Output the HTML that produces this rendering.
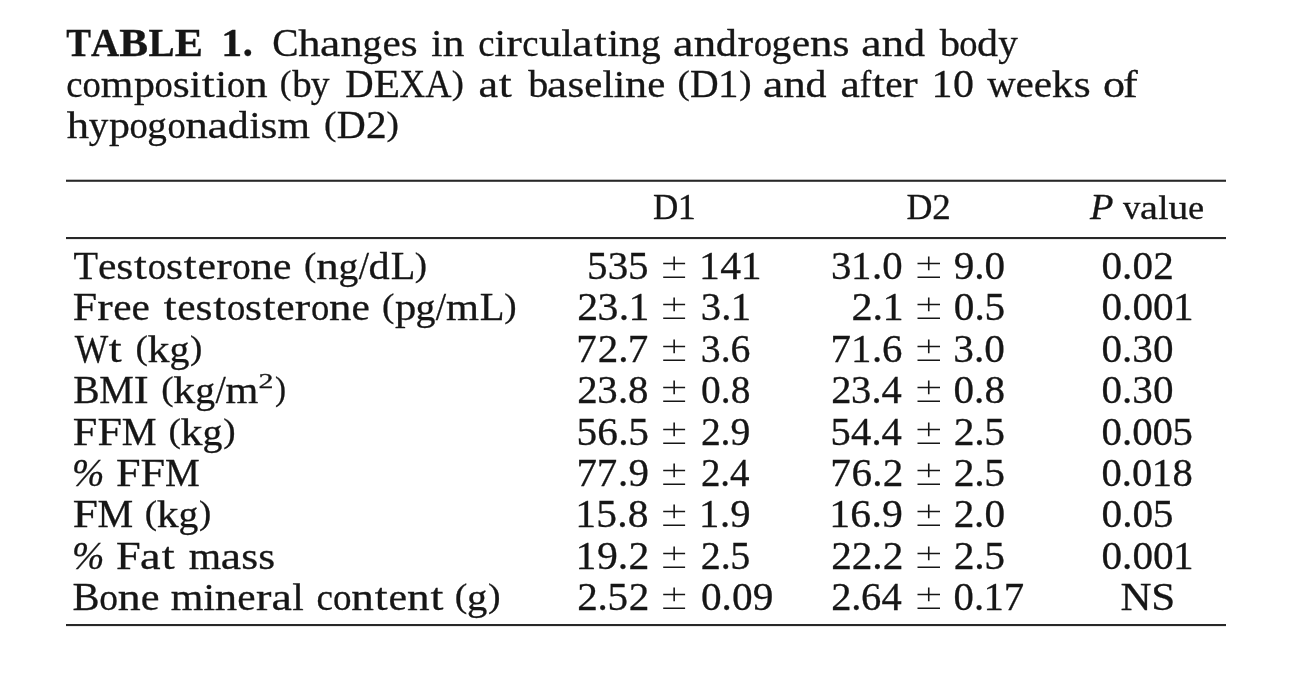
<!DOCTYPE html><html><head><meta charset="utf-8"><style>html,body{margin:0;padding:0;background:#fff;overflow:hidden}svg{display:block;will-change:transform}text{font-family:"Liberation Serif",serif;fill:#161616;stroke:#161616;stroke-width:0.30px}</style></head><body>
<svg width="1300" height="688" viewBox="0 0 1300 688">
<rect x="66.00" y="179.70" width="1160.00" height="2.10" fill="#282828"/>
<rect x="66.00" y="237.00" width="1160.00" height="2.10" fill="#282828"/>
<rect x="66.00" y="624.00" width="1160.00" height="2.10" fill="#282828"/>
<path d="M663.20 263.50H685.10M674.15 256.40V270.20M663.20 277.20H685.10" stroke="#161616" stroke-width="1.6" fill="none"/>
<path d="M917.50 263.50H940.00M928.75 256.40V270.20M917.50 277.20H940.00" stroke="#161616" stroke-width="1.6" fill="none"/>
<path d="M663.20 304.50H685.10M674.15 297.40V311.20M663.20 318.20H685.10" stroke="#161616" stroke-width="1.6" fill="none"/>
<path d="M917.50 304.50H940.00M928.75 297.40V311.20M917.50 318.20H940.00" stroke="#161616" stroke-width="1.6" fill="none"/>
<path d="M663.20 346.50H685.10M674.15 339.40V353.20M663.20 360.20H685.10" stroke="#161616" stroke-width="1.6" fill="none"/>
<path d="M917.50 346.50H940.00M928.75 339.40V353.20M917.50 360.20H940.00" stroke="#161616" stroke-width="1.6" fill="none"/>
<path d="M663.20 387.50H685.10M674.15 380.40V394.20M663.20 401.20H685.10" stroke="#161616" stroke-width="1.6" fill="none"/>
<path d="M917.50 387.50H940.00M928.75 380.40V394.20M917.50 401.20H940.00" stroke="#161616" stroke-width="1.6" fill="none"/>
<path d="M663.20 429.50H685.10M674.15 422.40V436.20M663.20 443.20H685.10" stroke="#161616" stroke-width="1.6" fill="none"/>
<path d="M917.50 429.50H940.00M928.75 422.40V436.20M917.50 443.20H940.00" stroke="#161616" stroke-width="1.6" fill="none"/>
<path d="M663.20 470.50H685.10M674.15 463.40V477.20M663.20 484.20H685.10" stroke="#161616" stroke-width="1.6" fill="none"/>
<path d="M917.50 470.50H940.00M928.75 463.40V477.20M917.50 484.20H940.00" stroke="#161616" stroke-width="1.6" fill="none"/>
<path d="M663.20 511.50H685.10M674.15 504.40V518.20M663.20 525.20H685.10" stroke="#161616" stroke-width="1.6" fill="none"/>
<path d="M917.50 511.50H940.00M928.75 504.40V518.20M917.50 525.20H940.00" stroke="#161616" stroke-width="1.6" fill="none"/>
<path d="M663.20 553.50H685.10M674.15 546.40V560.20M663.20 567.20H685.10" stroke="#161616" stroke-width="1.6" fill="none"/>
<path d="M917.50 553.50H940.00M928.75 546.40V560.20M917.50 567.20H940.00" stroke="#161616" stroke-width="1.6" fill="none"/>
<path d="M663.20 594.50H685.10M674.15 587.40V601.20M663.20 608.20H685.10" stroke="#161616" stroke-width="1.6" fill="none"/>
<path d="M917.50 594.50H940.00M928.75 587.40V601.20M917.50 608.20H940.00" stroke="#161616" stroke-width="1.6" fill="none"/>
<g id="cap1_0"><text y="56.00" font-size="40.30" transform="matrix(0.9210 0 0 1 66.19 0)" font-weight="bold">T</text><text y="56.00" font-size="40.30" transform="matrix(0.9680 0 0 1 90.91 0)" font-weight="bold">A</text><text y="56.00" font-size="40.30" transform="matrix(1.0743 0 0 1 119.37 0)" font-weight="bold">B</text><text y="56.00" font-size="40.30" transform="matrix(0.9721 0 0 1 148.49 0)" font-weight="bold">L</text><text y="56.00" font-size="40.30" transform="matrix(1.0481 0 0 1 174.86 0)" font-weight="bold">E</text></g>
<g id="cap1_1"><text y="56.00" font-size="40.30" transform="matrix(1.0360 0 0 1 221.23 0)" font-weight="bold">1</text><text y="56.00" font-size="40.30" transform="matrix(1.0035 0 0 1 242.74 0)" font-weight="bold">.</text></g>
<g id="cap1_2"><text y="56.00" font-size="40.30" transform="matrix(0.9792 0 0 1 272.18 0)">C</text><text y="56.00" font-size="38.30" transform="matrix(1.1631 0 0 1 298.30 0)">h</text><text y="56.00" font-size="38.30" transform="matrix(1.1923 0 0 1 320.00 0)">a</text><text y="56.00" font-size="38.30" transform="matrix(1.1631 0 0 1 340.59 0)">n</text><text y="56.00" font-size="38.30" transform="matrix(1.0222 0 0 1 362.57 0)">g</text><text y="56.00" font-size="38.30" transform="matrix(1.0722 0 0 1 382.52 0)">e</text><text y="56.00" font-size="38.30" transform="matrix(1.1324 0 0 1 400.73 0)">s</text></g>
<g id="cap1_3"><text y="56.00" font-size="38.30" transform="matrix(1.0486 0 0 1 431.22 0)">i</text><text y="56.00" font-size="38.30" transform="matrix(1.1302 0 0 1 442.72 0)">n</text></g>
<g id="cap1_4"><text y="56.00" font-size="38.30" transform="matrix(0.9586 0 0 1 478.22 0)">c</text><text y="56.00" font-size="38.30" transform="matrix(1.0865 0 0 1 494.61 0)">i</text><text y="56.00" font-size="38.30" transform="matrix(1.2200 0 0 1 506.31 0)">r</text><text y="56.00" font-size="38.30" transform="matrix(0.9586 0 0 1 522.37 0)">c</text><text y="56.00" font-size="38.30" transform="matrix(1.1710 0 0 1 538.89 0)">u</text><text y="56.00" font-size="38.30" transform="matrix(1.0865 0 0 1 561.23 0)">l</text><text y="56.00" font-size="38.30" transform="matrix(1.2004 0 0 1 572.29 0)">a</text><text y="56.00" font-size="38.30" transform="matrix(1.2200 0 0 1 593.75 0)">t</text><text y="56.00" font-size="38.30" transform="matrix(1.0865 0 0 1 607.43 0)">i</text><text y="56.00" font-size="38.30" transform="matrix(1.1710 0 0 1 618.86 0)">n</text><text y="56.00" font-size="38.30" transform="matrix(1.0292 0 0 1 640.99 0)">g</text></g>
<g id="cap1_5"><text y="56.00" font-size="38.30" transform="matrix(1.2020 0 0 1 672.90 0)">a</text><text y="56.00" font-size="38.30" transform="matrix(1.1725 0 0 1 693.65 0)">n</text><text y="56.00" font-size="38.30" transform="matrix(1.1015 0 0 1 715.77 0)">d</text><text y="56.00" font-size="38.30" transform="matrix(1.2200 0 0 1 737.49 0)">r</text><text y="56.00" font-size="38.30" transform="matrix(0.9595 0 0 1 753.69 0)">o</text><text y="56.00" font-size="38.30" transform="matrix(1.0305 0 0 1 771.59 0)">g</text><text y="56.00" font-size="38.30" transform="matrix(1.0809 0 0 1 791.71 0)">e</text><text y="56.00" font-size="38.30" transform="matrix(1.1725 0 0 1 810.00 0)">n</text><text y="56.00" font-size="38.30" transform="matrix(1.1416 0 0 1 832.52 0)">s</text></g>
<g id="cap1_6"><text y="56.00" font-size="38.30" transform="matrix(1.1969 0 0 1 861.19 0)">a</text><text y="56.00" font-size="38.30" transform="matrix(1.1676 0 0 1 881.85 0)">n</text><text y="56.00" font-size="38.30" transform="matrix(1.0969 0 0 1 903.89 0)">d</text></g>
<g id="cap1_7"><text y="56.00" font-size="38.30" transform="matrix(1.0597 0 0 1 939.64 0)">b</text><text y="56.00" font-size="38.30" transform="matrix(0.9530 0 0 1 959.16 0)">o</text><text y="56.00" font-size="38.30" transform="matrix(1.0941 0 0 1 976.91 0)">d</text><text y="56.00" font-size="38.30" transform="matrix(1.0235 0 0 1 998.20 0)">y</text></g>
<g id="cap2_0"><text y="97.00" font-size="38.30" transform="matrix(0.9563 0 0 1 66.22 0)">c</text><text y="97.00" font-size="38.30" transform="matrix(0.9559 0 0 1 82.61 0)">o</text><text y="97.00" font-size="38.30" transform="matrix(1.0926 0 0 1 100.80 0)">m</text><text y="97.00" font-size="38.30" transform="matrix(1.0974 0 0 1 133.95 0)">p</text><text y="97.00" font-size="38.30" transform="matrix(0.9559 0 0 1 154.48 0)">o</text><text y="97.00" font-size="38.30" transform="matrix(1.1373 0 0 1 172.68 0)">s</text><text y="97.00" font-size="38.30" transform="matrix(1.0838 0 0 1 189.70 0)">i</text><text y="97.00" font-size="38.30" transform="matrix(1.2200 0 0 1 201.81 0)">t</text><text y="97.00" font-size="38.30" transform="matrix(1.0838 0 0 1 215.47 0)">i</text><text y="97.00" font-size="38.30" transform="matrix(0.9559 0 0 1 227.05 0)">o</text><text y="97.00" font-size="38.30" transform="matrix(1.1682 0 0 1 245.18 0)">n</text></g>
<g id="cap2_1"><text y="94.00" font-size="34.00" transform="matrix(1.0291 0 0 1 279.67 0)" stroke-width="0">(</text><text y="97.00" font-size="38.30" transform="matrix(1.0159 0 0 1 292.27 0)">b</text><text y="97.00" font-size="38.30" transform="matrix(0.9812 0 0 1 310.83 0)">y</text></g>
<g id="cap2_2"><text y="97.00" font-size="40.30" transform="matrix(0.9743 0 0 1 345.21 0)">D</text><text y="97.00" font-size="40.30" transform="matrix(1.0690 0 0 1 373.80 0)">E</text><text y="97.00" font-size="40.30" transform="matrix(0.8816 0 0 1 399.59 0)">X</text><text y="97.00" font-size="40.30" transform="matrix(0.9042 0 0 1 425.28 0)">A</text><text y="94.00" font-size="34.00" transform="matrix(1.0719 0 0 1 451.85 0)" stroke-width="0">)</text></g>
<g id="cap2_3"><text y="97.00" font-size="38.30" transform="matrix(1.1508 0 0 1 478.40 0)">a</text><text y="97.00" font-size="38.30" transform="matrix(1.2200 0 0 1 498.72 0)">t</text></g>
<g id="cap2_4"><text y="97.00" font-size="38.30" transform="matrix(1.0494 0 0 1 528.15 0)">b</text><text y="97.00" font-size="38.30" transform="matrix(1.1822 0 0 1 546.99 0)">a</text><text y="97.00" font-size="38.30" transform="matrix(1.1228 0 0 1 567.47 0)">s</text><text y="97.00" font-size="38.30" transform="matrix(1.0631 0 0 1 584.22 0)">e</text><text y="97.00" font-size="38.30" transform="matrix(1.0700 0 0 1 602.38 0)">l</text><text y="97.00" font-size="38.30" transform="matrix(1.0700 0 0 1 613.72 0)">i</text><text y="97.00" font-size="38.30" transform="matrix(1.1532 0 0 1 624.98 0)">n</text><text y="97.00" font-size="38.30" transform="matrix(1.0631 0 0 1 647.15 0)">e</text></g>
<g id="cap2_5"><text y="94.00" font-size="34.00" transform="matrix(1.0841 0 0 1 677.39 0)" stroke-width="0">(</text><text y="97.00" font-size="40.30" transform="matrix(0.9853 0 0 1 690.10 0)">D</text><text y="97.00" font-size="40.30" transform="matrix(1.0171 0 0 1 717.98 0)">1</text><text y="94.00" font-size="34.00" transform="matrix(1.0841 0 0 1 739.26 0)" stroke-width="0">)</text></g>
<g id="cap2_6"><text y="97.00" font-size="38.30" transform="matrix(1.1949 0 0 1 762.91 0)">a</text><text y="97.00" font-size="38.30" transform="matrix(1.1656 0 0 1 783.54 0)">n</text><text y="97.00" font-size="38.30" transform="matrix(1.0951 0 0 1 805.54 0)">d</text></g>
<g id="cap2_7"><text y="97.00" font-size="38.30" transform="matrix(1.1331 0 0 1 840.56 0)">a</text><text y="97.00" font-size="38.30" transform="matrix(0.9045 0 0 1 859.75 0)">f</text><text y="97.00" font-size="38.30" transform="matrix(1.2200 0 0 1 871.98 0)">t</text><text y="97.00" font-size="38.30" transform="matrix(1.0190 0 0 1 885.21 0)">e</text><text y="97.00" font-size="38.30" transform="matrix(1.2060 0 0 1 902.36 0)">r</text></g>
<g id="cap2_8"><text y="97.00" font-size="40.30" transform="matrix(1.0420 0 0 1 931.49 0)">1</text><text y="97.00" font-size="40.30" transform="matrix(1.0420 0 0 1 952.97 0)">0</text></g>
<g id="cap2_9"><text y="97.00" font-size="38.30" transform="matrix(1.0283 0 0 1 987.18 0)">w</text><text y="97.00" font-size="38.30" transform="matrix(1.0753 0 0 1 1015.46 0)">e</text><text y="97.00" font-size="38.30" transform="matrix(1.0753 0 0 1 1033.74 0)">e</text><text y="97.00" font-size="38.30" transform="matrix(1.1320 0 0 1 1051.70 0)">k</text><text y="97.00" font-size="38.30" transform="matrix(1.1356 0 0 1 1073.68 0)">s</text></g>
<g id="cap2_10"><text y="97.00" font-size="38.30" transform="matrix(1.1542 0 0 1 1103.00 0)">o</text><text y="97.00" font-size="38.30" transform="matrix(1.1542 0 0 1 1122.89 0)">f</text></g>
<g id="cap3_0"><text y="138.00" font-size="38.30" transform="matrix(1.1648 0 0 1 66.75 0)">h</text><text y="138.00" font-size="38.30" transform="matrix(1.0238 0 0 1 88.82 0)">y</text><text y="138.00" font-size="38.30" transform="matrix(1.0943 0 0 1 109.07 0)">p</text><text y="138.00" font-size="38.30" transform="matrix(0.9532 0 0 1 129.54 0)">o</text><text y="138.00" font-size="38.30" transform="matrix(1.0238 0 0 1 147.33 0)">g</text><text y="138.00" font-size="38.30" transform="matrix(0.9532 0 0 1 167.40 0)">o</text><text y="138.00" font-size="38.30" transform="matrix(1.1648 0 0 1 185.48 0)">n</text><text y="138.00" font-size="38.30" transform="matrix(1.1941 0 0 1 207.47 0)">a</text><text y="138.00" font-size="38.30" transform="matrix(1.0943 0 0 1 227.76 0)">d</text><text y="138.00" font-size="38.30" transform="matrix(1.0807 0 0 1 249.18 0)">i</text><text y="138.00" font-size="38.30" transform="matrix(1.1341 0 0 1 260.61 0)">s</text><text y="138.00" font-size="38.30" transform="matrix(1.0895 0 0 1 277.51 0)">m</text></g>
<g id="cap3_1"><text y="135.00" font-size="34.00" transform="matrix(1.0966 0 0 1 324.01 0)" stroke-width="0">(</text><text y="138.00" font-size="40.30" transform="matrix(0.9967 0 0 1 336.87 0)">D</text><text y="138.00" font-size="40.30" transform="matrix(1.0288 0 0 1 365.88 0)">2</text><text y="135.00" font-size="34.00" transform="matrix(1.0966 0 0 1 386.60 0)" stroke-width="0">)</text></g>
<g id="h1"><text y="219.00" font-size="35.40" transform="matrix(0.9895 0 0 1 653.04 0)">D</text><text y="219.00" font-size="35.40" transform="matrix(1.0213 0 0 1 677.65 0)">1</text></g>
<g id="h2"><text y="219.00" font-size="35.40" transform="matrix(1.0141 0 0 1 906.60 0)">D</text><text y="219.00" font-size="35.40" transform="matrix(1.0468 0 0 1 932.29 0)">2</text></g>
<g id="h3a"><text y="219.00" font-size="35.40" transform="matrix(1.0837 0 0 1 1090.12 0)" font-style="italic">P</text></g>
<g id="h3b"><text y="219.00" font-size="33.50" transform="matrix(1.0333 0 0 1 1123.11 0)">v</text><text y="219.00" font-size="33.50" transform="matrix(1.2052 0 0 1 1139.98 0)">a</text><text y="219.00" font-size="33.50" transform="matrix(1.0908 0 0 1 1158.34 0)">l</text><text y="219.00" font-size="33.50" transform="matrix(1.1757 0 0 1 1168.57 0)">u</text><text y="219.00" font-size="33.50" transform="matrix(1.0838 0 0 1 1188.10 0)">e</text></g>
<g id="l0_0"><text y="279.00" font-size="40.50" transform="matrix(0.9923 0 0 1 73.45 0)">T</text><text y="279.00" font-size="38.00" transform="matrix(1.0911 0 0 1 97.94 0)">e</text><text y="279.00" font-size="38.00" transform="matrix(1.1523 0 0 1 116.32 0)">s</text><text y="279.00" font-size="38.00" transform="matrix(1.2200 0 0 1 134.10 0)">t</text><text y="279.00" font-size="38.00" transform="matrix(0.9686 0 0 1 147.79 0)">o</text><text y="279.00" font-size="38.00" transform="matrix(1.1523 0 0 1 166.09 0)">s</text><text y="279.00" font-size="38.00" transform="matrix(1.2200 0 0 1 183.86 0)">t</text><text y="279.00" font-size="38.00" transform="matrix(1.0911 0 0 1 197.46 0)">e</text><text y="279.00" font-size="38.00" transform="matrix(1.2200 0 0 1 216.15 0)">r</text><text y="279.00" font-size="38.00" transform="matrix(0.9686 0 0 1 232.30 0)">o</text><text y="279.00" font-size="38.00" transform="matrix(1.1836 0 0 1 250.52 0)">n</text><text y="279.00" font-size="38.00" transform="matrix(1.0911 0 0 1 273.10 0)">e</text></g>
<g id="l0_1"><text y="276.00" font-size="34.00" transform="matrix(1.0838 0 0 1 303.89 0)" stroke-width="0">(</text><text y="279.00" font-size="38.00" transform="matrix(1.1850 0 0 1 316.21 0)">n</text><text y="279.00" font-size="38.00" transform="matrix(1.0415 0 0 1 338.42 0)">g</text><text y="279.00" font-size="40.50" transform="matrix(0.9104 0 0 1 358.68 0)" stroke-width="0">/</text><text y="279.00" font-size="38.00" transform="matrix(1.1132 0 0 1 368.42 0)">d</text><text y="279.00" font-size="40.50" transform="matrix(0.9935 0 0 1 390.71 0)">L</text><text y="276.00" font-size="34.00" transform="matrix(1.0838 0 0 1 414.87 0)" stroke-width="0">)</text></g>
<g id="l1_0"><text y="320.00" font-size="40.50" transform="matrix(1.0839 0 0 1 72.86 0)">F</text><text y="320.00" font-size="38.00" transform="matrix(1.2200 0 0 1 97.26 0)">r</text><text y="320.00" font-size="38.00" transform="matrix(1.0851 0 0 1 113.28 0)">e</text><text y="320.00" font-size="38.00" transform="matrix(1.0851 0 0 1 131.58 0)">e</text></g>
<g id="l1_1"><text y="320.00" font-size="38.00" transform="matrix(1.2200 0 0 1 163.72 0)">t</text><text y="320.00" font-size="38.00" transform="matrix(1.0858 0 0 1 177.28 0)">e</text><text y="320.00" font-size="38.00" transform="matrix(1.1467 0 0 1 195.58 0)">s</text><text y="320.00" font-size="38.00" transform="matrix(1.2200 0 0 1 213.24 0)">t</text><text y="320.00" font-size="38.00" transform="matrix(0.9638 0 0 1 226.89 0)">o</text><text y="320.00" font-size="38.00" transform="matrix(1.1467 0 0 1 245.10 0)">s</text><text y="320.00" font-size="38.00" transform="matrix(1.2200 0 0 1 262.76 0)">t</text><text y="320.00" font-size="38.00" transform="matrix(1.0858 0 0 1 276.32 0)">e</text><text y="320.00" font-size="38.00" transform="matrix(1.2200 0 0 1 294.87 0)">r</text><text y="320.00" font-size="38.00" transform="matrix(0.9638 0 0 1 310.98 0)">o</text><text y="320.00" font-size="38.00" transform="matrix(1.1778 0 0 1 329.12 0)">n</text><text y="320.00" font-size="38.00" transform="matrix(1.0858 0 0 1 351.58 0)">e</text></g>
<g id="l1_2"><text y="317.00" font-size="34.00" transform="matrix(1.0925 0 0 1 382.02 0)" stroke-width="0">(</text><text y="320.00" font-size="38.00" transform="matrix(1.1222 0 0 1 395.09 0)">p</text><text y="320.00" font-size="38.00" transform="matrix(1.0498 0 0 1 415.45 0)">g</text><text y="320.00" font-size="40.50" transform="matrix(0.9177 0 0 1 435.87 0)" stroke-width="0">/</text><text y="320.00" font-size="38.00" transform="matrix(1.1172 0 0 1 446.09 0)">m</text><text y="320.00" font-size="40.50" transform="matrix(1.0015 0 0 1 479.86 0)">L</text><text y="317.00" font-size="34.00" transform="matrix(1.0925 0 0 1 504.22 0)" stroke-width="0">)</text></g>
<g id="l2_0"><text y="362.00" font-size="40.50" transform="matrix(0.8759 0 0 1 74.87 0)">W</text><text y="362.00" font-size="38.00" transform="matrix(1.2200 0 0 1 108.68 0)">t</text></g>
<g id="l2_1"><text y="359.00" font-size="34.00" transform="matrix(1.0913 0 0 1 135.38 0)" stroke-width="0">(</text><text y="362.00" font-size="38.00" transform="matrix(1.1581 0 0 1 147.53 0)">k</text><text y="362.00" font-size="38.00" transform="matrix(1.0487 0 0 1 169.47 0)">g</text><text y="359.00" font-size="34.00" transform="matrix(1.0913 0 0 1 190.09 0)" stroke-width="0">)</text></g>
<g id="l3_0"><text y="403.00" font-size="40.50" transform="matrix(0.9792 0 0 1 73.14 0)">B</text><text y="403.00" font-size="40.50" transform="matrix(0.9604 0 0 1 99.21 0)">M</text><text y="403.00" font-size="40.50" transform="matrix(1.1056 0 0 1 133.76 0)">I</text></g>
<g id="l3_1"><text y="400.00" font-size="34.00" transform="matrix(1.0866 0 0 1 161.19 0)" stroke-width="0">(</text><text y="403.00" font-size="38.00" transform="matrix(1.1531 0 0 1 173.29 0)">k</text><text y="403.00" font-size="38.00" transform="matrix(1.0442 0 0 1 195.14 0)">g</text><text y="403.00" font-size="40.50" transform="matrix(0.9128 0 0 1 215.46 0)" stroke-width="0">/</text><text y="403.00" font-size="38.00" transform="matrix(1.1112 0 0 1 225.61 0)">m</text></g>
<g id="l3_2"><text y="400.00" font-size="34.00" transform="matrix(0.9763 0 0 1 274.89 0)" stroke-width="0">)</text></g>
<g id="l4_0"><text y="445.00" font-size="40.50" transform="matrix(1.0901 0 0 1 72.85 0)">F</text><text y="445.00" font-size="40.50" transform="matrix(1.0901 0 0 1 97.41 0)">F</text><text y="445.00" font-size="40.50" transform="matrix(0.9650 0 0 1 121.81 0)">M</text></g>
<g id="l4_1"><text y="442.00" font-size="34.00" transform="matrix(1.0921 0 0 1 168.38 0)" stroke-width="0">(</text><text y="445.00" font-size="38.00" transform="matrix(1.1589 0 0 1 180.54 0)">k</text><text y="445.00" font-size="38.00" transform="matrix(1.0495 0 0 1 202.50 0)">g</text><text y="442.00" font-size="34.00" transform="matrix(1.0921 0 0 1 223.14 0)" stroke-width="0">)</text></g>
<g id="l5_0"><text y="486.00" font-size="40.50" transform="matrix(0.9585 0 0 1 72.02 0)" font-style="italic">%</text></g>
<g id="l5_1"><text y="486.00" font-size="40.50" transform="matrix(1.0915 0 0 1 116.00 0)">F</text><text y="486.00" font-size="40.50" transform="matrix(1.0915 0 0 1 140.58 0)">F</text><text y="486.00" font-size="40.50" transform="matrix(0.9662 0 0 1 165.02 0)">M</text></g>
<g id="l6_0"><text y="527.00" font-size="40.50" transform="matrix(1.1193 0 0 1 72.78 0)">F</text><text y="527.00" font-size="40.50" transform="matrix(0.9908 0 0 1 97.55 0)">M</text></g>
<g id="l6_1"><text y="524.00" font-size="34.00" transform="matrix(1.0841 0 0 1 144.68 0)" stroke-width="0">(</text><text y="527.00" font-size="38.00" transform="matrix(1.1505 0 0 1 156.76 0)">k</text><text y="527.00" font-size="38.00" transform="matrix(1.0418 0 0 1 178.56 0)">g</text><text y="524.00" font-size="34.00" transform="matrix(1.0841 0 0 1 199.04 0)" stroke-width="0">)</text></g>
<g id="l7_0"><text y="569.00" font-size="40.50" transform="matrix(0.9585 0 0 1 72.02 0)" font-style="italic">%</text></g>
<g id="l7_1"><text y="569.00" font-size="40.50" transform="matrix(1.0983 0 0 1 115.98 0)">F</text><text y="569.00" font-size="38.00" transform="matrix(1.2200 0 0 1 140.08 0)">a</text><text y="569.00" font-size="38.00" transform="matrix(1.2200 0 0 1 161.86 0)">t</text></g>
<g id="l7_2"><text y="569.00" font-size="38.00" transform="matrix(1.0967 0 0 1 188.66 0)">m</text><text y="569.00" font-size="38.00" transform="matrix(1.2021 0 0 1 220.70 0)">a</text><text y="569.00" font-size="38.00" transform="matrix(1.1417 0 0 1 241.36 0)">s</text><text y="569.00" font-size="38.00" transform="matrix(1.1417 0 0 1 258.24 0)">s</text></g>
<g id="l8_0"><text y="610.00" font-size="40.50" transform="matrix(1.0029 0 0 1 72.54 0)">B</text><text y="610.00" font-size="38.00" transform="matrix(0.9875 0 0 1 99.22 0)">o</text><text y="610.00" font-size="38.00" transform="matrix(1.2067 0 0 1 117.80 0)">n</text><text y="610.00" font-size="38.00" transform="matrix(1.1124 0 0 1 140.82 0)">e</text></g>
<g id="l8_1"><text y="610.00" font-size="38.00" transform="matrix(1.1017 0 0 1 170.83 0)">m</text><text y="610.00" font-size="38.00" transform="matrix(1.0929 0 0 1 203.47 0)">i</text><text y="610.00" font-size="38.00" transform="matrix(1.1779 0 0 1 214.87 0)">n</text><text y="610.00" font-size="38.00" transform="matrix(1.0859 0 0 1 237.34 0)">e</text><text y="610.00" font-size="38.00" transform="matrix(1.2200 0 0 1 255.89 0)">r</text><text y="610.00" font-size="38.00" transform="matrix(1.2075 0 0 1 271.51 0)">a</text><text y="610.00" font-size="38.00" transform="matrix(1.0929 0 0 1 292.37 0)">l</text></g>
<g id="l8_2"><text y="610.00" font-size="38.00" transform="matrix(0.9754 0 0 1 316.43 0)">c</text><text y="610.00" font-size="38.00" transform="matrix(0.9751 0 0 1 333.01 0)">o</text><text y="610.00" font-size="38.00" transform="matrix(1.1915 0 0 1 351.36 0)">n</text><text y="610.00" font-size="38.00" transform="matrix(1.2200 0 0 1 374.86 0)">t</text><text y="610.00" font-size="38.00" transform="matrix(1.0984 0 0 1 388.50 0)">e</text><text y="610.00" font-size="38.00" transform="matrix(1.1915 0 0 1 406.94 0)">n</text><text y="610.00" font-size="38.00" transform="matrix(1.2200 0 0 1 430.43 0)">t</text></g>
<g id="l8_3"><text y="607.00" font-size="34.00" transform="matrix(1.1104 0 0 1 454.77 0)" stroke-width="0">(</text><text y="610.00" font-size="38.00" transform="matrix(1.0670 0 0 1 467.08 0)">g</text><text y="607.00" font-size="34.00" transform="matrix(1.1104 0 0 1 488.06 0)" stroke-width="0">)</text></g>
<g id="sup3"><text y="388.00" font-size="21.70" transform="matrix(1.3795 0 0 1 258.50 0)" stroke-width="0.7">2</text></g>
<g id="a0"><text y="279.00" font-size="40.50" transform="matrix(1.0139 0 0 1 587.05 0)">5</text><text y="279.00" font-size="40.50" transform="matrix(1.0139 0 0 1 607.79 0)">3</text><text y="279.00" font-size="40.50" transform="matrix(1.0139 0 0 1 628.11 0)">5</text></g>
<g id="b0"><text y="279.00" font-size="40.50" transform="matrix(1.0273 0 0 1 699.06 0)">1</text><text y="279.00" font-size="40.50" transform="matrix(1.0273 0 0 1 720.36 0)">4</text><text y="279.00" font-size="40.50" transform="matrix(1.0273 0 0 1 740.66 0)">1</text></g>
<g id="e0"><text y="279.00" font-size="40.50" transform="matrix(1.0088 0 0 1 831.08 0)">3</text><text y="279.00" font-size="40.50" transform="matrix(1.0088 0 0 1 851.12 0)">1</text><text y="279.00" font-size="40.50" transform="matrix(1.0088 0 0 1 872.11 0)">.</text><text y="279.00" font-size="40.50" transform="matrix(1.0088 0 0 1 882.33 0)">0</text></g>
<g id="d0"><text y="279.00" font-size="40.50" transform="matrix(1.0169 0 0 1 953.71 0)">9</text><text y="279.00" font-size="40.50" transform="matrix(1.0169 0 0 1 974.13 0)">.</text><text y="279.00" font-size="40.50" transform="matrix(1.0169 0 0 1 984.42 0)">0</text></g>
<g id="p0"><text y="279.00" font-size="40.50" transform="matrix(1.0172 0 0 1 1101.49 0)">0</text><text y="279.00" font-size="40.50" transform="matrix(1.0172 0 0 1 1122.09 0)">.</text><text y="279.00" font-size="40.50" transform="matrix(1.0172 0 0 1 1132.39 0)">0</text><text y="279.00" font-size="40.50" transform="matrix(1.0172 0 0 1 1153.22 0)">2</text></g>
<g id="a1"><text y="320.00" font-size="40.50" transform="matrix(1.0317 0 0 1 577.14 0)">2</text><text y="320.00" font-size="40.50" transform="matrix(1.0317 0 0 1 597.62 0)">3</text><text y="320.00" font-size="40.50" transform="matrix(1.0317 0 0 1 618.69 0)">.</text><text y="320.00" font-size="40.50" transform="matrix(1.0317 0 0 1 628.56 0)">1</text></g>
<g id="b1"><text y="320.00" font-size="40.50" transform="matrix(1.0065 0 0 1 700.64 0)">3</text><text y="320.00" font-size="40.50" transform="matrix(1.0065 0 0 1 721.21 0)">.</text><text y="320.00" font-size="40.50" transform="matrix(1.0065 0 0 1 730.83 0)">1</text></g>
<g id="e1"><text y="320.00" font-size="40.50" transform="matrix(1.0458 0 0 1 851.46 0)">2</text><text y="320.00" font-size="40.50" transform="matrix(1.0458 0 0 1 872.40 0)">.</text><text y="320.00" font-size="40.50" transform="matrix(1.0458 0 0 1 882.39 0)">1</text></g>
<g id="d1"><text y="320.00" font-size="40.50" transform="matrix(1.0205 0 0 1 953.87 0)">0</text><text y="320.00" font-size="40.50" transform="matrix(1.0205 0 0 1 974.54 0)">.</text><text y="320.00" font-size="40.50" transform="matrix(1.0205 0 0 1 984.48 0)">5</text></g>
<g id="p1"><text y="320.00" font-size="40.50" transform="matrix(1.0178 0 0 1 1101.49 0)">0</text><text y="320.00" font-size="40.50" transform="matrix(1.0178 0 0 1 1122.10 0)">.</text><text y="320.00" font-size="40.50" transform="matrix(1.0178 0 0 1 1132.40 0)">0</text><text y="320.00" font-size="40.50" transform="matrix(1.0178 0 0 1 1153.01 0)">0</text><text y="320.00" font-size="40.50" transform="matrix(1.0178 0 0 1 1173.05 0)">1</text></g>
<g id="a2"><text y="362.00" font-size="40.50" transform="matrix(1.0128 0 0 1 576.37 0)">7</text><text y="362.00" font-size="40.50" transform="matrix(1.0128 0 0 1 597.87 0)">2</text><text y="362.00" font-size="40.50" transform="matrix(1.0128 0 0 1 618.15 0)">.</text><text y="362.00" font-size="40.50" transform="matrix(1.0128 0 0 1 627.64 0)">7</text></g>
<g id="b2"><text y="362.00" font-size="40.50" transform="matrix(0.9819 0 0 1 700.72 0)">3</text><text y="362.00" font-size="40.50" transform="matrix(0.9819 0 0 1 720.80 0)">.</text><text y="362.00" font-size="40.50" transform="matrix(0.9819 0 0 1 730.50 0)">6</text></g>
<g id="e2"><text y="362.00" font-size="40.50" transform="matrix(1.0087 0 0 1 830.39 0)">7</text><text y="362.00" font-size="40.50" transform="matrix(1.0087 0 0 1 851.00 0)">1</text><text y="362.00" font-size="40.50" transform="matrix(1.0087 0 0 1 872.00 0)">.</text><text y="362.00" font-size="40.50" transform="matrix(1.0087 0 0 1 881.94 0)">6</text></g>
<g id="d2"><text y="362.00" font-size="40.50" transform="matrix(1.0191 0 0 1 953.17 0)">3</text><text y="362.00" font-size="40.50" transform="matrix(1.0191 0 0 1 973.99 0)">.</text><text y="362.00" font-size="40.50" transform="matrix(1.0191 0 0 1 984.30 0)">0</text></g>
<g id="p2"><text y="362.00" font-size="40.50" transform="matrix(1.0152 0 0 1 1101.49 0)">0</text><text y="362.00" font-size="40.50" transform="matrix(1.0152 0 0 1 1122.05 0)">.</text><text y="362.00" font-size="40.50" transform="matrix(1.0152 0 0 1 1132.15 0)">3</text><text y="362.00" font-size="40.50" transform="matrix(1.0152 0 0 1 1152.89 0)">0</text></g>
<g id="a3"><text y="403.00" font-size="40.50" transform="matrix(1.0098 0 0 1 577.21 0)">2</text><text y="403.00" font-size="40.50" transform="matrix(1.0098 0 0 1 597.25 0)">3</text><text y="403.00" font-size="40.50" transform="matrix(1.0098 0 0 1 617.88 0)">.</text><text y="403.00" font-size="40.50" transform="matrix(1.0098 0 0 1 628.10 0)">8</text></g>
<g id="b3"><text y="403.00" font-size="40.50" transform="matrix(0.9733 0 0 1 701.07 0)">0</text><text y="403.00" font-size="40.50" transform="matrix(0.9733 0 0 1 720.80 0)">.</text><text y="403.00" font-size="40.50" transform="matrix(0.9733 0 0 1 730.68 0)">8</text></g>
<g id="e3"><text y="403.00" font-size="40.50" transform="matrix(0.9998 0 0 1 831.24 0)">2</text><text y="403.00" font-size="40.50" transform="matrix(0.9998 0 0 1 851.09 0)">3</text><text y="403.00" font-size="40.50" transform="matrix(0.9998 0 0 1 871.51 0)">.</text><text y="403.00" font-size="40.50" transform="matrix(0.9998 0 0 1 881.55 0)">4</text></g>
<g id="d3"><text y="403.00" font-size="40.50" transform="matrix(1.0167 0 0 1 953.53 0)">0</text><text y="403.00" font-size="40.50" transform="matrix(1.0167 0 0 1 974.12 0)">.</text><text y="403.00" font-size="40.50" transform="matrix(1.0167 0 0 1 984.41 0)">8</text></g>
<g id="p3"><text y="403.00" font-size="40.50" transform="matrix(1.0152 0 0 1 1101.49 0)">0</text><text y="403.00" font-size="40.50" transform="matrix(1.0152 0 0 1 1122.05 0)">.</text><text y="403.00" font-size="40.50" transform="matrix(1.0152 0 0 1 1132.15 0)">3</text><text y="403.00" font-size="40.50" transform="matrix(1.0152 0 0 1 1152.89 0)">0</text></g>
<g id="a4"><text y="445.00" font-size="40.50" transform="matrix(1.0219 0 0 1 576.42 0)">5</text><text y="445.00" font-size="40.50" transform="matrix(1.0219 0 0 1 597.24 0)">6</text><text y="445.00" font-size="40.50" transform="matrix(1.0219 0 0 1 618.20 0)">.</text><text y="445.00" font-size="40.50" transform="matrix(1.0219 0 0 1 628.16 0)">5</text></g>
<g id="b4"><text y="445.00" font-size="40.50" transform="matrix(0.9787 0 0 1 700.89 0)">2</text><text y="445.00" font-size="40.50" transform="matrix(0.9787 0 0 1 720.50 0)">.</text><text y="445.00" font-size="40.50" transform="matrix(0.9787 0 0 1 730.60 0)">9</text></g>
<g id="e4"><text y="445.00" font-size="40.50" transform="matrix(1.0014 0 0 1 830.54 0)">5</text><text y="445.00" font-size="40.50" transform="matrix(1.0014 0 0 1 851.12 0)">4</text><text y="445.00" font-size="40.50" transform="matrix(1.0014 0 0 1 871.48 0)">.</text><text y="445.00" font-size="40.50" transform="matrix(1.0014 0 0 1 881.54 0)">4</text></g>
<g id="d4"><text y="445.00" font-size="40.50" transform="matrix(1.0280 0 0 1 953.63 0)">2</text><text y="445.00" font-size="40.50" transform="matrix(1.0280 0 0 1 974.21 0)">.</text><text y="445.00" font-size="40.50" transform="matrix(1.0280 0 0 1 984.22 0)">5</text></g>
<g id="p4"><text y="445.00" font-size="40.50" transform="matrix(1.0076 0 0 1 1101.52 0)">0</text><text y="445.00" font-size="40.50" transform="matrix(1.0076 0 0 1 1121.92 0)">.</text><text y="445.00" font-size="40.50" transform="matrix(1.0076 0 0 1 1132.13 0)">0</text><text y="445.00" font-size="40.50" transform="matrix(1.0076 0 0 1 1152.53 0)">0</text><text y="445.00" font-size="40.50" transform="matrix(1.0076 0 0 1 1172.54 0)">5</text></g>
<g id="a5"><text y="486.00" font-size="40.50" transform="matrix(1.0090 0 0 1 576.39 0)">7</text><text y="486.00" font-size="40.50" transform="matrix(1.0090 0 0 1 596.82 0)">7</text><text y="486.00" font-size="40.50" transform="matrix(1.0090 0 0 1 618.01 0)">.</text><text y="486.00" font-size="40.50" transform="matrix(1.0090 0 0 1 628.41 0)">9</text></g>
<g id="b5"><text y="486.00" font-size="40.50" transform="matrix(0.9629 0 0 1 700.93 0)">2</text><text y="486.00" font-size="40.50" transform="matrix(0.9629 0 0 1 720.24 0)">.</text><text y="486.00" font-size="40.50" transform="matrix(0.9629 0 0 1 729.94 0)">4</text></g>
<g id="e5"><text y="486.00" font-size="40.50" transform="matrix(1.0176 0 0 1 830.35 0)">7</text><text y="486.00" font-size="40.50" transform="matrix(1.0176 0 0 1 851.45 0)">6</text><text y="486.00" font-size="40.50" transform="matrix(1.0176 0 0 1 872.33 0)">.</text><text y="486.00" font-size="40.50" transform="matrix(1.0176 0 0 1 882.86 0)">2</text></g>
<g id="d5"><text y="486.00" font-size="40.50" transform="matrix(1.0280 0 0 1 953.63 0)">2</text><text y="486.00" font-size="40.50" transform="matrix(1.0280 0 0 1 974.21 0)">.</text><text y="486.00" font-size="40.50" transform="matrix(1.0280 0 0 1 984.22 0)">5</text></g>
<g id="p5"><text y="486.00" font-size="40.50" transform="matrix(1.0029 0 0 1 1101.54 0)">0</text><text y="486.00" font-size="40.50" transform="matrix(1.0029 0 0 1 1121.84 0)">.</text><text y="486.00" font-size="40.50" transform="matrix(1.0029 0 0 1 1132.00 0)">0</text><text y="486.00" font-size="40.50" transform="matrix(1.0029 0 0 1 1151.74 0)">1</text><text y="486.00" font-size="40.50" transform="matrix(1.0029 0 0 1 1172.62 0)">8</text></g>
<g id="a6"><text y="527.00" font-size="40.50" transform="matrix(1.0265 0 0 1 575.21 0)">1</text><text y="527.00" font-size="40.50" transform="matrix(1.0265 0 0 1 596.18 0)">5</text><text y="527.00" font-size="40.50" transform="matrix(1.0265 0 0 1 617.36 0)">.</text><text y="527.00" font-size="40.50" transform="matrix(1.0265 0 0 1 627.76 0)">8</text></g>
<g id="b6"><text y="527.00" font-size="40.50" transform="matrix(1.0034 0 0 1 699.03 0)">1</text><text y="527.00" font-size="40.50" transform="matrix(1.0034 0 0 1 719.92 0)">.</text><text y="527.00" font-size="40.50" transform="matrix(1.0034 0 0 1 730.26 0)">9</text></g>
<g id="e6"><text y="527.00" font-size="40.50" transform="matrix(1.0300 0 0 1 829.20 0)">1</text><text y="527.00" font-size="40.50" transform="matrix(1.0300 0 0 1 850.36 0)">6</text><text y="527.00" font-size="40.50" transform="matrix(1.0300 0 0 1 871.49 0)">.</text><text y="527.00" font-size="40.50" transform="matrix(1.0300 0 0 1 882.11 0)">9</text></g>
<g id="d6"><text y="527.00" font-size="40.50" transform="matrix(1.0193 0 0 1 953.66 0)">2</text><text y="527.00" font-size="40.50" transform="matrix(1.0193 0 0 1 974.07 0)">.</text><text y="527.00" font-size="40.50" transform="matrix(1.0193 0 0 1 984.39 0)">0</text></g>
<g id="p6"><text y="527.00" font-size="40.50" transform="matrix(1.0212 0 0 1 1101.48 0)">0</text><text y="527.00" font-size="40.50" transform="matrix(1.0212 0 0 1 1122.16 0)">.</text><text y="527.00" font-size="40.50" transform="matrix(1.0212 0 0 1 1132.50 0)">0</text><text y="527.00" font-size="40.50" transform="matrix(1.0212 0 0 1 1152.79 0)">5</text></g>
<g id="a7"><text y="569.00" font-size="40.50" transform="matrix(1.0302 0 0 1 575.45 0)">1</text><text y="569.00" font-size="40.50" transform="matrix(1.0302 0 0 1 597.08 0)">9</text><text y="569.00" font-size="40.50" transform="matrix(1.0302 0 0 1 617.76 0)">.</text><text y="569.00" font-size="40.50" transform="matrix(1.0302 0 0 1 628.42 0)">2</text></g>
<g id="b7"><text y="569.00" font-size="40.50" transform="matrix(0.9904 0 0 1 700.85 0)">2</text><text y="569.00" font-size="40.50" transform="matrix(0.9904 0 0 1 720.69 0)">.</text><text y="569.00" font-size="40.50" transform="matrix(0.9904 0 0 1 730.35 0)">5</text></g>
<g id="e7"><text y="569.00" font-size="40.50" transform="matrix(1.0199 0 0 1 831.18 0)">2</text><text y="569.00" font-size="40.50" transform="matrix(1.0199 0 0 1 851.84 0)">2</text><text y="569.00" font-size="40.50" transform="matrix(1.0199 0 0 1 872.26 0)">.</text><text y="569.00" font-size="40.50" transform="matrix(1.0199 0 0 1 882.82 0)">2</text></g>
<g id="d7"><text y="569.00" font-size="40.50" transform="matrix(1.0280 0 0 1 953.63 0)">2</text><text y="569.00" font-size="40.50" transform="matrix(1.0280 0 0 1 974.21 0)">.</text><text y="569.00" font-size="40.50" transform="matrix(1.0280 0 0 1 984.22 0)">5</text></g>
<g id="p7"><text y="569.00" font-size="40.50" transform="matrix(1.0178 0 0 1 1101.49 0)">0</text><text y="569.00" font-size="40.50" transform="matrix(1.0178 0 0 1 1122.10 0)">.</text><text y="569.00" font-size="40.50" transform="matrix(1.0178 0 0 1 1132.40 0)">0</text><text y="569.00" font-size="40.50" transform="matrix(1.0178 0 0 1 1153.01 0)">0</text><text y="569.00" font-size="40.50" transform="matrix(1.0178 0 0 1 1173.05 0)">1</text></g>
<g id="a8"><text y="610.00" font-size="40.50" transform="matrix(1.0171 0 0 1 577.19 0)">2</text><text y="610.00" font-size="40.50" transform="matrix(1.0171 0 0 1 597.55 0)">.</text><text y="610.00" font-size="40.50" transform="matrix(1.0171 0 0 1 607.46 0)">5</text><text y="610.00" font-size="40.50" transform="matrix(1.0171 0 0 1 628.68 0)">2</text></g>
<g id="b8"><text y="610.00" font-size="40.50" transform="matrix(1.0193 0 0 1 700.96 0)">0</text><text y="610.00" font-size="40.50" transform="matrix(1.0193 0 0 1 721.61 0)">.</text><text y="610.00" font-size="40.50" transform="matrix(1.0193 0 0 1 731.93 0)">0</text><text y="610.00" font-size="40.50" transform="matrix(1.0193 0 0 1 752.75 0)">9</text></g>
<g id="e8"><text y="610.00" font-size="40.50" transform="matrix(0.9998 0 0 1 831.24 0)">2</text><text y="610.00" font-size="40.50" transform="matrix(0.9998 0 0 1 851.26 0)">.</text><text y="610.00" font-size="40.50" transform="matrix(0.9998 0 0 1 861.12 0)">6</text><text y="610.00" font-size="40.50" transform="matrix(0.9998 0 0 1 881.55 0)">4</text></g>
<g id="d8"><text y="610.00" font-size="40.50" transform="matrix(1.0061 0 0 1 953.55 0)">0</text><text y="610.00" font-size="40.50" transform="matrix(1.0061 0 0 1 973.92 0)">.</text><text y="610.00" font-size="40.50" transform="matrix(1.0061 0 0 1 983.54 0)">1</text><text y="610.00" font-size="40.50" transform="matrix(1.0061 0 0 1 1003.72 0)">7</text></g>
<g id="p8"><text y="610.00" font-size="40.50" transform="matrix(1.0621 0 0 1 1120.40 0)">N</text><text y="610.00" font-size="40.50" transform="matrix(1.0661 0 0 1 1151.19 0)">S</text></g>
</svg></body></html>
